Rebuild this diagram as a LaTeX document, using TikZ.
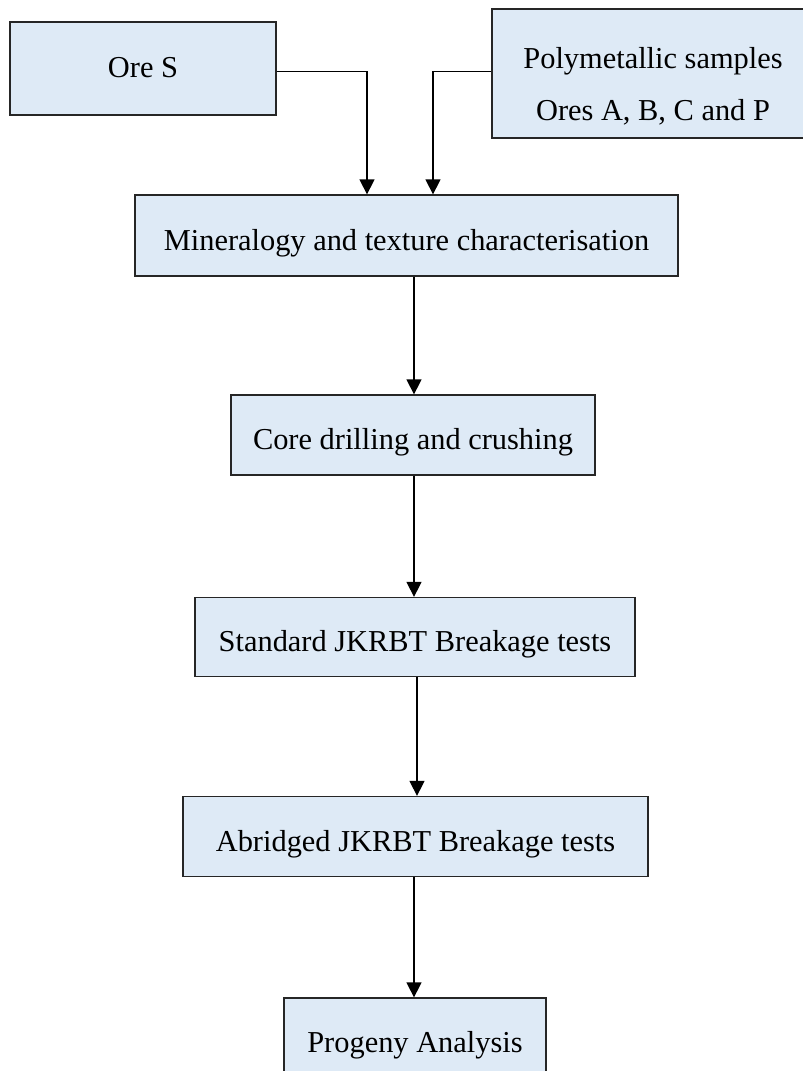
\documentclass[tikz,border=0pt]{standalone}
\usepackage{fontspec}
\setmainfont{Liberation Serif}
\usetikzlibrary{arrows.meta}
\definecolor{boxfill}{HTML}{DEEAF6}
\definecolor{boxline}{HTML}{262626}
\begin{document}
\begin{tikzpicture}[x=1pt,y=-1pt,
  stepbox/.style={draw=boxline, fill=boxfill, line width=1.3pt, inner sep=0pt,
    font=\fontsize{30.4}{52}\selectfont, text height=29pt, text depth=0pt},
  arr/.style={-{Triangle[length=15pt,width=15pt]}, line width=1.4pt, draw=black}]
\clip (0,0) rectangle (803,1071);
\fill[white] (0,0) rectangle (803,1071);
\node[stepbox, minimum width=266pt, minimum height=93pt, text height=17pt] (ore) at (143,68.5) {Ore S};
\node[stepbox, minimum width=322pt, minimum height=129pt, align=center, text height=93pt, text depth=0pt] (poly) at (653,73.5) {Polymetallic samples\\Ores A, B, C and P};
\node[stepbox, minimum width=543pt, minimum height=81pt] (min) at (406.5,235.5) {Mineralogy and texture characterisation};
\node[stepbox, minimum width=364pt, minimum height=80pt] (core) at (413,435) {Core drilling and crushing};
\node[stepbox, minimum width=440pt, minimum height=79pt] (std) at (415,637) {Standard JKRBT Breakage tests};
\node[stepbox, minimum width=465pt, minimum height=80pt] (abr) at (415.5,836.5) {Abridged JKRBT Breakage tests};
\node[stepbox, minimum width=262pt, minimum height=80pt] (prog) at (415,1038) {Progeny Analysis};
\draw[arr] ([yshift=-3pt]ore.east) -| ([xshift=-39.5pt]min.north);
\draw[arr] ([yshift=2pt]poly.west) -| ([xshift=26.5pt]min.north);
\draw[arr] (min.south -| 414,0) -- (core.north -| 414,0);
\draw[arr] (core.south -| 414,0) -- (std.north -| 414,0);
\draw[arr] (std.south -| 417,0) -- (abr.north -| 417,0);
\draw[arr] (abr.south -| 414,0) -- (prog.north -| 414,0);
\end{tikzpicture}
\end{document}
